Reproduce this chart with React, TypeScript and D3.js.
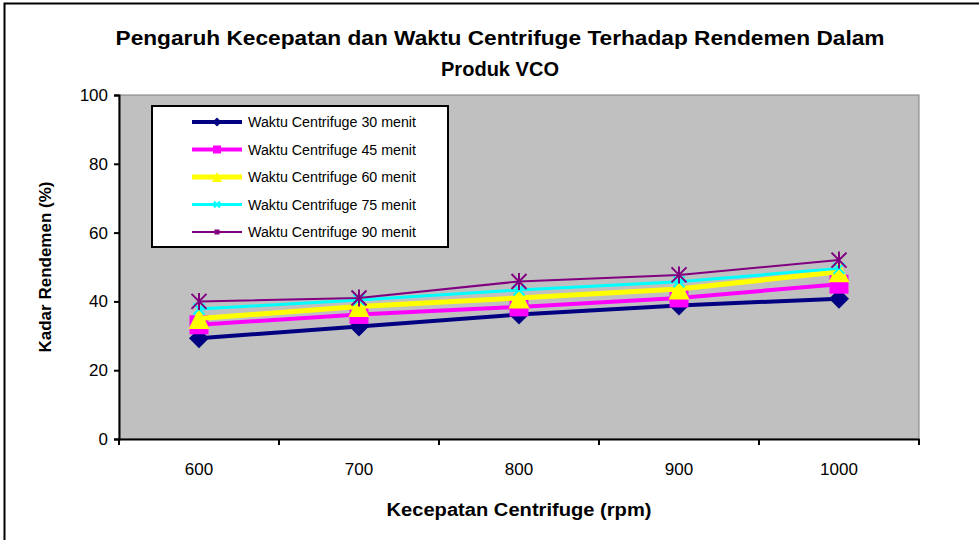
import React, { useEffect, useRef } from 'react';
import * as d3 from 'd3';

const speeds = ['600', '700', '800', '900', '1000'];
const seriesNames = [
  'Waktu Centrifuge 30 menit',
  'Waktu Centrifuge 45 menit',
  'Waktu Centrifuge 60 menit',
  'Waktu Centrifuge 75 menit',
  'Waktu Centrifuge 90 menit',
];
const menit30 = [29.3, 32.7, 36.2, 38.8, 40.8];
const menit45 = [33.2, 36.2, 38.4, 41.0, 45.0];
const menit60 = [35.0, 38.5, 41.0, 43.6, 48.6];
const menit75 = [37.8, 40.4, 43.3, 45.7, 49.6];
const menit90 = [40.0, 41.0, 45.8, 47.7, 52.0];
const yTicks = [0, 20, 40, 60, 80, 100];

const colors = ['#000080', '#FF00FF', '#FFFF00', '#00FFFF', '#800080'];
const lineWidths = [4, 4, 5, 3, 2];
const markers = ['diamond', 'square', 'triangle', 'x', 'asterisk'];

const FONT = '"Liberation Sans", Arial, sans-serif';

const drawMarker = (g, type, x, y, color, s) => {
  if (type === 'diamond') {
    g.append('path')
      .attr('d', `M${x},${y - s / 2}L${x + s / 2},${y}L${x},${y + s / 2}L${x - s / 2},${y}Z`)
      .attr('fill', color);
  } else if (type === 'square') {
    g.append('rect')
      .attr('x', x - s / 2).attr('y', y - s / 2)
      .attr('width', s).attr('height', s)
      .attr('fill', color);
  } else if (type === 'triangle') {
    g.append('path')
      .attr('d', `M${x},${y - s / 2}L${x + s / 2},${y + s / 2}L${x - s / 2},${y + s / 2}Z`)
      .attr('fill', color);
  } else if (type === 'x') {
    const h = s / 2;
    g.append('path')
      .attr('d', `M${x - h},${y - h}L${x + h},${y + h}M${x - h},${y + h}L${x + h},${y - h}`)
      .attr('stroke', color).attr('stroke-width', 2);
  } else if (type === 'asterisk') {
    const h = s / 2;
    g.append('path')
      .attr('d', `M${x - h},${y - h}L${x + h},${y + h}M${x - h},${y + h}L${x + h},${y - h}M${x},${y - h - 1}L${x},${y + h + 1}`)
      .attr('stroke', color).attr('stroke-width', 2);
  }
};

const App = () => {
  const svgRef = useRef(null);

  useEffect(() => {
    const svg = d3.select(svgRef.current);
    svg.selectAll('*').remove();

    const series = [menit30, menit45, menit60, menit75, menit90];
    const plot = { left: 119, right: 919, top: 95, bottom: 439 };

    // outer frame (right/bottom edges fall off the page)
    svg.append('rect')
      .attr('x', 4.5).attr('y', 3.5)
      .attr('width', 990).attr('height', 560)
      .attr('fill', 'white').attr('stroke', 'black').attr('stroke-width', 2);

    const x = d3.scaleBand().domain(speeds).range([plot.left, plot.right]).padding(0);
    const y = d3.scaleLinear().domain([0, 100]).range([plot.bottom, plot.top]);

    svg.append('rect')
      .attr('x', plot.left).attr('y', plot.top)
      .attr('width', plot.right - plot.left).attr('height', plot.bottom - plot.top)
      .attr('fill', '#C0C0C0').attr('stroke', '#808080').attr('stroke-width', 1);

    // y axis
    const yAxis = svg.append('g')
      .attr('transform', `translate(${plot.left},0)`)
      .call(d3.axisLeft(y).tickValues(yTicks).tickSize(5).tickPadding(6));
    yAxis.selectAll('text').attr('font-size', 17).attr('font-family', FONT).attr('fill', 'black');
    yAxis.selectAll('.domain, .tick line').attr('stroke', 'black').attr('stroke-width', 2);

    // x axis, ticks at category boundaries
    const xAxis = svg.append('g')
      .attr('transform', `translate(0,${plot.bottom})`)
      .call(d3.axisBottom(x).tickSize(0).tickPadding(24));
    xAxis.selectAll('text').attr('font-size', 17).attr('font-family', FONT).attr('fill', 'black');
    xAxis.select('.domain').attr('stroke', 'black').attr('stroke-width', 2);
    const bounds = speeds.map(s => x(s)).concat([x(speeds[speeds.length - 1]) + x.bandwidth()]);
    xAxis.selectAll('.bound')
      .data(bounds)
      .enter()
      .append('line')
      .attr('x1', d => d).attr('x2', d => d)
      .attr('y1', 0).attr('y2', 6)
      .attr('stroke', 'black').attr('stroke-width', 2);

    const cx = s => x(s) + x.bandwidth() / 2;
    const line = d3.line()
      .x((d, i) => cx(speeds[i]))
      .y(d => y(d));

    const markerSizes = [20, 19, 21, 11, 15];
    series.forEach((vals, k) => {
      svg.append('path')
        .datum(vals)
        .attr('fill', 'none')
        .attr('stroke', colors[k])
        .attr('stroke-width', lineWidths[k])
        .attr('d', line);
      const g = svg.append('g');
      vals.forEach((v, i) => drawMarker(g, markers[k], cx(speeds[i]), y(v), colors[k], markerSizes[k]));
    });

    // legend
    const legend = svg.append('g').attr('transform', 'translate(152,106)');
    legend.append('rect')
      .attr('x', 0).attr('y', 0).attr('width', 296).attr('height', 141)
      .attr('fill', 'white').attr('stroke', 'black').attr('stroke-width', 2);
    const legendMarkers = ['diamond', 'square', 'triangle', 'x', 'square'];
    const legendSizes = [9, 8, 10, 6, 5];
    seriesNames.forEach((name, k) => {
      const ly = 16 + k * 27.5;
      legend.append('line')
        .attr('x1', 40).attr('x2', 90).attr('y1', ly).attr('y2', ly)
        .attr('stroke', colors[k]).attr('stroke-width', lineWidths[k]);
      drawMarker(legend, legendMarkers[k], 65, ly, colors[k], legendSizes[k]);
      legend.append('text')
        .attr('x', 96).attr('y', ly + 5)
        .attr('font-size', 14).attr('font-family', FONT)
        .attr('textLength', 168).attr('lengthAdjust', 'spacingAndGlyphs')
        .text(name);
    });

    // titles
    svg.append('text')
      .attr('x', 500).attr('y', 45)
      .attr('text-anchor', 'middle')
      .attr('font-size', 21).attr('font-weight', 'bold').attr('font-family', FONT)
      .attr('textLength', 769).attr('lengthAdjust', 'spacingAndGlyphs')
      .text('Pengaruh Kecepatan dan Waktu Centrifuge Terhadap Rendemen Dalam');
    svg.append('text')
      .attr('x', 500).attr('y', 76)
      .attr('text-anchor', 'middle')
      .attr('font-size', 21).attr('font-weight', 'bold').attr('font-family', FONT)
      .attr('textLength', 118).attr('lengthAdjust', 'spacingAndGlyphs')
      .text('Produk VCO');

    svg.append('text')
      .attr('x', 519).attr('y', 516)
      .attr('text-anchor', 'middle')
      .attr('font-size', 18).attr('font-weight', 'bold').attr('font-family', FONT)
      .attr('textLength', 265).attr('lengthAdjust', 'spacingAndGlyphs')
      .text('Kecepatan Centrifuge (rpm)');

    svg.append('text')
      .attr('transform', 'rotate(-90)')
      .attr('x', -267).attr('y', 51)
      .attr('text-anchor', 'middle')
      .attr('font-size', 17).attr('font-weight', 'bold').attr('font-family', FONT)
      .attr('textLength', 171).attr('lengthAdjust', 'spacingAndGlyphs')
      .text('Kadar Rendemen (%)');
  }, []);

  return (
    <svg ref={svgRef} width={979} height={540}
      style={{ position: 'absolute', left: 0, top: 0, display: 'block' }} />
  );
};

export default App;
